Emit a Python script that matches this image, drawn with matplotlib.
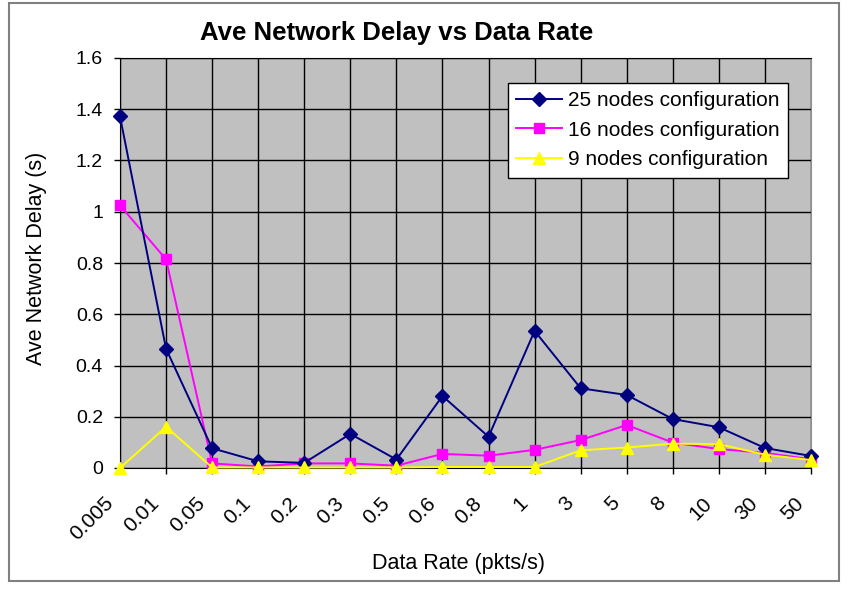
import numpy as np
import matplotlib
matplotlib.use('Agg')
import matplotlib.pyplot as plt
from matplotlib.patches import Rectangle
from matplotlib.transforms import ScaledTranslation

plt.rcParams['font.family'] = ['Liberation Sans', 'DejaVu Sans']

# data
rates = ['0.005', '0.01', '0.05', '0.1', '0.2', '0.3', '0.5', '0.6',
         '0.8', '1', '3', '5', '8', '10', '30', '50']
nodes25 = [1.372, 0.465, 0.077, 0.026, 0.020, 0.133, 0.033, 0.281,
           0.122, 0.535, 0.311, 0.285, 0.191, 0.159, 0.078, 0.047]
nodes16 = [1.025, 0.814, 0.018, 0.006, 0.018, 0.018, 0.009, 0.055,
           0.048, 0.071, 0.109, 0.168, 0.099, 0.074, 0.059, 0.034]
nodes9 = [0.000, 0.161, 0.002, 0.002, 0.002, 0.002, 0.002, 0.004,
          0.004, 0.004, 0.069, 0.080, 0.095, 0.093, 0.052, 0.031]

x = np.arange(len(rates))

fig = plt.figure(figsize=(8.49, 5.90), dpi=100)
ax = fig.add_axes([120/849, 1-468/590, 691/849, 410/590])

ax.set_facecolor('#C0C0C0')
ax.plot(x, nodes25, color='#000080', marker='D', markersize=7, lw=1.4,
        label='25 nodes configuration', clip_on=False, zorder=5)
ax.plot(x, nodes16, color='#FF00FF', marker='s', markersize=6.5, lw=1.4,
        label='16 nodes configuration', clip_on=False, zorder=4)
ax.plot(x, nodes9, color='#FFFF00', marker='^', markersize=8, lw=1.4,
        label='9 nodes configuration', clip_on=False, zorder=6)

ax.set_xlim(0, len(rates)-1)
ax.set_ylim(0, 1.6)
ax.set_yticks(np.arange(0, 1.61, 0.2))
ax.set_yticklabels(['0', '0.2', '0.4', '0.6', '0.8', '1', '1.2', '1.4', '1.6'], fontsize=14)
ax.set_xticks(x)
ax.set_xticklabels(rates, rotation=45, ha='right', va='center',
                   rotation_mode='anchor', fontsize=15)
ax.tick_params(axis='both', direction='out', length=4.3, color='black', width=1)
ax.tick_params(axis='y', pad=8)
ax.tick_params(axis='x', pad=19)
shift = ScaledTranslation(-10/100, 0, fig.dpi_scale_trans)
for lab in ax.get_xticklabels():
    lab.set_transform(lab.get_transform() + shift)
ax.grid(True, color='black', lw=1)
ax.set_axisbelow(True)

ax.spines['left'].set_color('black')
ax.spines['bottom'].set_color('black')
ax.spines['top'].set_color('black')
ax.spines['right'].set_color('#909090')

ax.set_xlabel('Data Rate (pkts/s)', fontsize=15.5)
ax.xaxis.set_label_coords((458-120)/691, (468-563)/410)
ax.xaxis.label.set_va('center')
ax.set_ylabel('Ave Network Delay (s)', fontsize=15.5)
ax.yaxis.set_label_coords((37-120)/691, (468-258)/410)
ax.yaxis.label.set_va('center')
fig.text(397/849, 1-33/590, 'Ave Network Delay vs Data Rate', fontsize=18.5,
         fontweight='bold', ha='center', va='center')

leg = ax.legend(loc='upper right', bbox_to_anchor=((788-120)/691, (468-83)/410),
                fontsize=15, fancybox=False, framealpha=1, edgecolor='black',
                handlelength=2.2, handletextpad=0.3, borderpad=0.4,
                labelspacing=0.5, borderaxespad=0)
leg.get_frame().set_linewidth(1)

# outer chart frame
fig.patches.append(Rectangle((9/849, 1-581/590), 830/849, 578/590,
                             transform=fig.transFigure, fill=False,
                             edgecolor='#808080', lw=1.5))

fig.savefig('out.png', dpi=100)
